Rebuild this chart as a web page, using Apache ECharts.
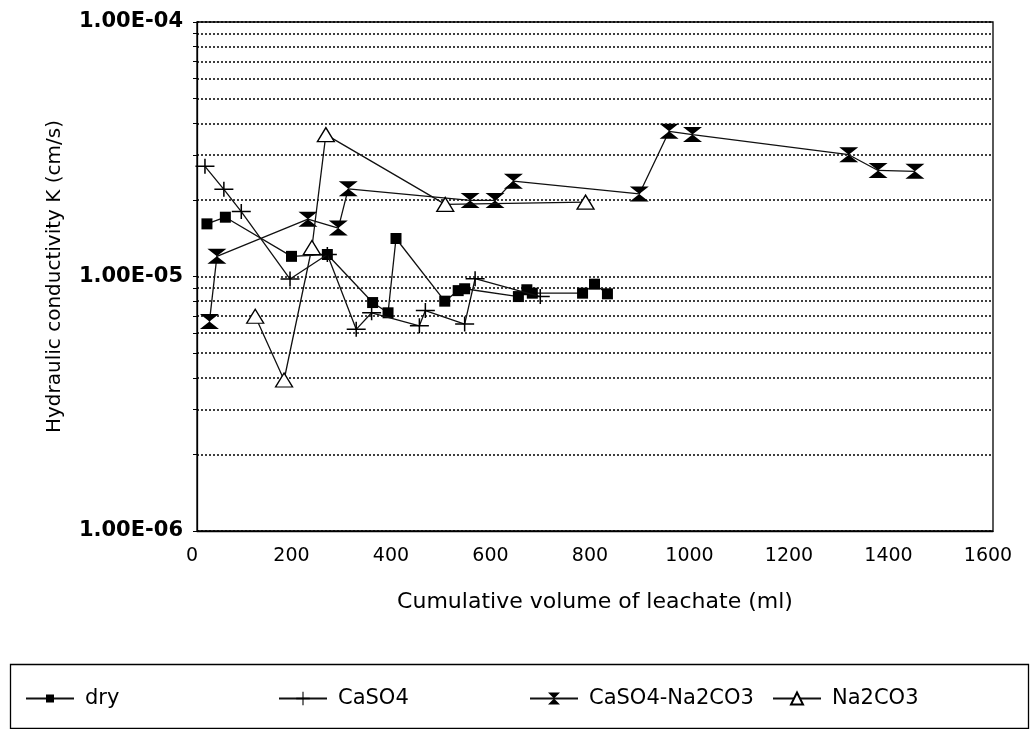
<!DOCTYPE html>
<html>
<head>
<meta charset="utf-8">
<script src="https://cdn.jsdelivr.net/npm/echarts@6/dist/echarts.min.js"></script>
<style>
html,body{margin:0;padding:0;background:#fff;}
#chart{width:1033px;height:729px;}
</style>
</head>
<body>
<div id="chart"></div>
<script>
// ---- data ----
const dryX = [20, 57, 190, 262, 353, 384, 400, 498, 525, 538, 646, 663, 674, 775, 799, 825];
const dryK = [1.61e-5, 1.71e-5, 1.20e-5, 1.22e-5, 7.9e-6, 7.2e-6, 1.41e-5, 8.0e-6, 8.8e-6, 8.95e-6, 8.34e-6, 8.87e-6, 8.6e-6, 8.6e-6, 9.33e-6, 8.55e-6];

const caso4X = [16, 54, 89, 187, 262, 320, 351, 447, 459, 538, 559, 690];
const caso4K = [2.71e-5, 2.20e-5, 1.80e-5, 9.77e-6, 1.22e-5, 6.2e-6, 7.2e-6, 6.4e-6, 7.35e-6, 6.5e-6, 9.8e-6, 8.34e-6];

const mixX = [25, 40, 223, 284, 304, 549, 599, 636, 889, 949, 996, 1310, 1369, 1443];
const mixK = [6.65e-6, 1.20e-5, 1.68e-5, 1.55e-5, 2.21e-5, 1.99e-5, 1.99e-5, 2.37e-5, 2.11e-5, 3.72e-5, 3.61e-5, 3.01e-5, 2.61e-5, 2.59e-5];

const na2X = [117, 175, 231, 259, 499, 781];
const na2K = [6.98e-6, 3.92e-6, 1.30e-5, 3.61e-5, 1.92e-5, 1.96e-5];

const seriesNames = ['dry', 'CaSO4', 'CaSO4-Na2CO3', 'Na2CO3'];
const yMajorTicks = [1e-6, 1e-5, 1e-4];
const yMinorTicks = [1e-6,2e-6,3e-6,4e-6,5e-6,6e-6,7e-6,8e-6,9e-6,1e-5,2e-5,3e-5,4e-5,5e-5,6e-5,7e-5,8e-5,9e-5,1e-4];
const xMin = 0, xMax = 1600, xStep = 200;

function pair(xs, ys){ return xs.map((x,i)=>[x, ys[i]]); }
function fmtE(v){
  const e = Math.round(Math.log10(v));
  const m = v/Math.pow(10,e);
  return m.toFixed(2) + 'E' + (e<0?'-':'+') + String(Math.abs(e)).padStart(2,'0');
}

const FONT = 'DejaVu Sans';
const plusPath = 'path://M0,4.5 H10 V5.5 H0 Z M4.6,0 H5.4 V10 H4.6 Z';
const hourPath = 'path://M0,0 L10,0 L5,5 L10,10 L0,10 L5,5 Z';

const lineStyle = {color:'#111', width:1.3};

const chart = echarts.init(document.getElementById('chart'), null, {renderer:'canvas'});
const legendLefts = [20, 273, 524, 767];
const legendIconH = [10, 17, 15, 15];
const option = {
  backgroundColor:'#fff',
  animation:false,
  grid:{left:197, right:40, top:22, bottom:198, show:true, borderColor:'#000', borderWidth:1.3, backgroundColor:'transparent'},
  xAxis:{
    type:'value', min:xMin, max:xMax, interval:xStep,
    axisLine:{show:true, lineStyle:{color:'#000', width:1.3}},
    axisTick:{show:false},
    splitLine:{show:false},
    axisLabel:{color:'#000', fontFamily:FONT, fontSize:19, margin:16, padding:[0,10,0,0], formatter:(v)=>String(v)},
    name:'Cumulative volume of leachate (ml)', nameLocation:'middle', nameGap:60,
    nameTextStyle:{color:'#000', fontFamily:FONT, fontSize:22}
  },
  yAxis:{
    type:'log', logBase:10, min:1e-6, max:1e-4,
    axisLine:{show:true, lineStyle:{color:'#000', width:1.3}},
    axisTick:{show:true, length:4, lineStyle:{color:'#000'}, customValues:yMinorTicks},
    splitLine:{show:true, lineStyle:{color:'#000', width:1.5, type:[2,2]}},
    axisLabel:{color:'#000', fontFamily:FONT, fontSize:21, fontWeight:'bold', margin:14, customValues:yMajorTicks, formatter:fmtE},
    name:'Hydraulic conductivity K (cm/s)', nameLocation:'middle', nameGap:132, nameRotate:90,
    nameTextStyle:{color:'#000', fontFamily:FONT, fontSize:20}
  },
  legend: seriesNames.map((n,i)=>({
    data:[n], left:legendLefts[i], top:683, orient:'horizontal',
    itemWidth:48, itemHeight:legendIconH[i], selectedMode:false,
    textStyle:{color:'#000', fontFamily:FONT, fontSize:21, padding:[0,0,0,6]}
  })),
  graphic:[{type:'rect', left:8, top:662, shape:{width:1018, height:64}, style:{fill:'none', stroke:'#000', lineWidth:1.3}, silent:true}],
  series:[
    {name:seriesNames[0], type:'line', data:pair(dryX,dryK), symbol:'rect', symbolSize:11,
     itemStyle:{color:'#000'}, lineStyle:lineStyle, z:2},
    {name:seriesNames[1], type:'line', data:pair(caso4X,caso4K), symbol:plusPath, symbolSize:[19,15],
     itemStyle:{color:'#000'}, lineStyle:lineStyle, z:3},
    {name:seriesNames[2], type:'line', data:pair(mixX,mixK), symbol:hourPath, symbolSize:[19,15],
     itemStyle:{color:'#000'}, lineStyle:lineStyle, z:4},
    {name:seriesNames[3], type:'line', data:pair(na2X,na2K), symbol:'triangle', symbolSize:[17,14],
     itemStyle:{color:'#fff', borderColor:'#000', borderWidth:1.3}, lineStyle:lineStyle, z:5}
  ]
};
chart.setOption(option);
</script>
</body>
</html>
